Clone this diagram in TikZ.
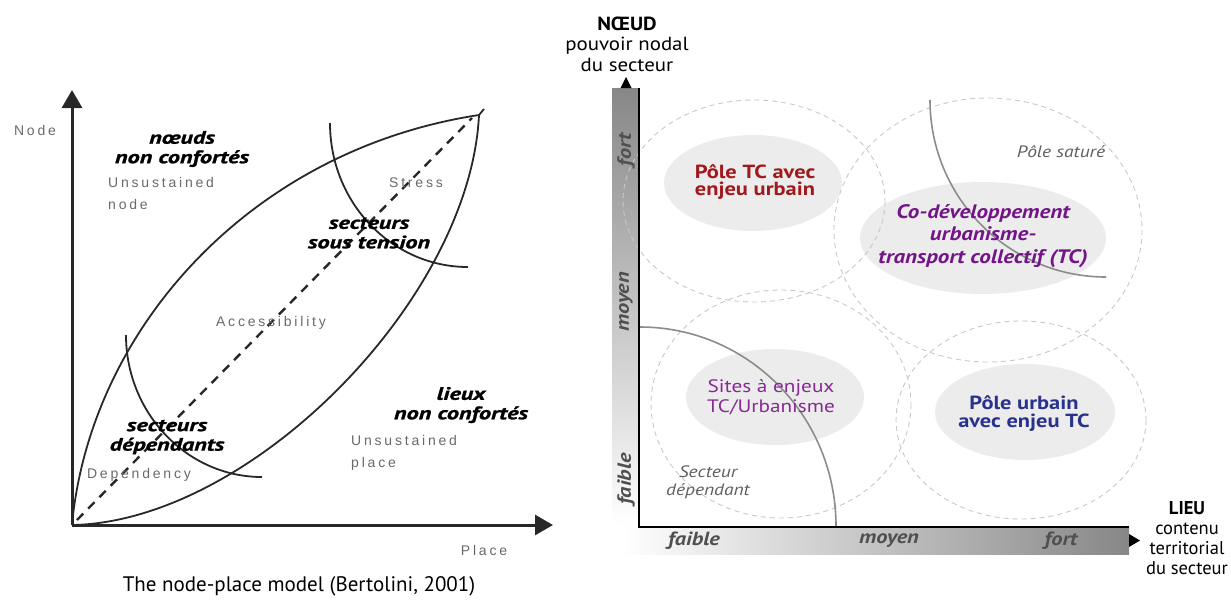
\documentclass[tikz,border=0pt]{standalone}
\usepackage{fontspec}
\setmainfont{PT Sans}
\newfontfamily\helv[LetterSpace=20]{Liberation Sans}
\newfontfamily\frfont[FakeStretch=1.35,FakeBold=1.2]{PT Sans}
\newfontfamily\rfont[FakeStretch=1.18]{PT Sans}
\newfontfamily\nfont[FakeStretch=1.1]{PT Sans}
\usetikzlibrary{arrows.meta,shapes.geometric}
\definecolor{inkL}{RGB}{40,40,40}
\definecolor{helvgray}{RGB}{105,105,105}
\definecolor{barDark}{RGB}{135,135,135}
\definecolor{blobfill}{RGB}{236,236,236}
\definecolor{dashgray}{RGB}{200,200,200}
\definecolor{arcgray}{RGB}{140,140,140}
\definecolor{labgray}{RGB}{80,80,80}
\definecolor{itgray}{RGB}{95,95,95}
\definecolor{tcred}{RGB}{160,25,28}
\definecolor{copurple}{RGB}{115,20,135}
\definecolor{sitepurple}{RGB}{135,40,150}
\definecolor{urbblue}{RGB}{40,50,140}
\begin{document}
\begin{tikzpicture}[x=1pt,y=-1pt,
  axisL/.style={line width=3pt,draw=inkL,-{Triangle[length=18pt,width=20pt]}},
  leaf/.style={line width=1.8pt,draw=inkL},
  diag/.style={line width=2.4pt,draw=inkL,dash pattern=on 9pt off 7pt},
  engl/.style={font=\helv\fontsize{14}{22}\selectfont,text=helvgray,inner sep=0pt,align=left},
  frb/.style={font=\frfont\bfseries\itshape\fontsize{18}{19.5}\selectfont,text=black,inner sep=0pt,align=center},
  blob/.style={ellipse,fill=blobfill,inner sep=0pt},
  dcirc/.style={draw=dashgray,line width=0.9pt,dash pattern=on 5pt off 4pt},
  arcR/.style={draw=arcgray,line width=1.6pt},
  barlab/.style={font=\rfont\bfseries\itshape\fontsize{19}{20}\selectfont,text=labgray,inner sep=0pt},
  axtitle/.style={font=\nfont\fontsize{19}{20.5}\selectfont,align=center,inner sep=0pt},
  itlab/.style={font=\rfont\itshape\fontsize{16.5}{18}\selectfont,text=itgray,align=center,inner sep=0pt}
]
\useasboundingbox (0,0) rectangle (1231,600);

% ================= LEFT PANEL =================
\coordinate (O) at (72,525);
\coordinate (Ytip) at (72,90);
\coordinate (Xtip) at (553,525);
\coordinate (T) at (479,115);
\coordinate (Tx) at (484,109);
\coordinate (D0) at (77,520);
\coordinate (D1) at (472,118);
\coordinate (S0) at (330,123);
\coordinate (S1) at (468,267);
\coordinate (P0) at (126,335);
\coordinate (P1) at (262,477);

\draw[leaf] (O) .. controls (90,330) and (250,150) .. (T) -- (Tx);
\draw[leaf] (O) .. controls (250,522) and (470,300) .. (T);
\draw[diag] (D0) -- (D1);
\draw[leaf] (S0) .. controls (330,203) and (392,267) .. (S1);
\draw[leaf] (P0) .. controls (126,413) and (187,477) .. (P1);
\draw[axisL] (O) -- (Ytip);
\draw[axisL] (O) -- (Xtip);

\node[engl] (nodelab) at (35,130) {Node};
\node[engl] (placelab) at (484,550) {Place};
\node[font=\fontsize{21}{22}\selectfont,inner sep=0pt] (caption) at (299,586) {The node-place model (Bertolini, 2001)};

\node[frb] (nnc) at (182,149) {nœuds\\non confortés};
\node[engl,anchor=west] (unode) at (108,193) {Unsustained\\node};
\node[engl] (stress) at (416,183) {Stress};
\node[frb] (sst) at (369,233) {secteurs\\sous tension};
\node[engl] (acc) at (271,323) {Accessibility};
\node[frb] (sdep) at (167,437) {secteurs\\dépendants};
\node[engl] (dep) at (139,475) {Dependency};
\node[frb] (lnc) at (461,405) {lieux\\non confortés};
\node[engl,anchor=west] (uplace) at (351,453) {Unsustained\\place};

% ================= RIGHT PANEL =================
\shade[top color=barDark,bottom color=white] (612,88) rectangle (639,525);
\shade[left color=white,right color=barDark] (622,527) rectangle (1129,554);

\node[blob,minimum width=178pt,minimum height=96pt] (e1) at (753,183) {};
\node[blob,minimum width=246pt,minimum height=112pt] (e2) at (983,238) {};
\node[blob,minimum width=178pt,minimum height=96pt] (e3) at (775,397) {};
\node[blob,minimum width=180pt,minimum height=96pt] (e4) at (1025,412) {};

\draw[dcirc] (754,201) ellipse [x radius=131, y radius=101];
\draw[dcirc] (988,230) ellipse [x radius=154, y radius=132];
\draw[dcirc] (781,404) ellipse [x radius=130, y radius=114];
\draw[dcirc] (1021,420) ellipse [x radius=125, y radius=99];

\coordinate (A0) at (930,100);
\coordinate (A1) at (1106,277);
\coordinate (B0) at (640,327);
\coordinate (B1) at (836,526);
\draw[arcR] (A0) .. controls (930,198) and (1009,277) .. (A1);
\draw[arcR] (B0) .. controls (748,327) and (836,416) .. (B1);

\coordinate (RO) at (639,527);
\coordinate (RY) at (639,88);
\coordinate (RX) at (1129,527);
\draw[line width=1.6pt,black] (RY) -- (RO) -- (RX);
\fill[black] (620.5,88) -- (631.5,88) -- (626,77) -- cycle;
\fill[black] (1129,534) -- (1129,547) -- (1140,540.5) -- cycle;

\node[barlab,rotate=90] (yf) at (626,150) {fort};
\node[barlab,rotate=90] (ym) at (626,302) {moyen};
\node[barlab,rotate=90] (yl) at (626,479) {faible};
\node[barlab] (xl) at (694,541) {faible};
\node[barlab] (xm) at (889,541) {moyen};
\node[barlab] (xf) at (1061,541) {fort};

\node[axtitle] (noeud) at (627,44) {\textbf{NŒUD}\\pouvoir nodal\\du secteur};
\node[axtitle,font=\fontsize{18.5}{20}\selectfont] (lieu) at (1187,538) {\textbf{LIEU}\\contenu\\territorial\\du secteur};

\node[font=\rfont\bfseries\fontsize{19}{17}\selectfont,text=tcred,align=center,inner sep=0pt] at (755,182) {Pôle TC avec\\enjeu urbain};
\node[font=\rfont\bfseries\itshape\fontsize{19.5}{22.5}\selectfont,text=copurple,align=center,inner sep=0pt] at (983,236) {Co-développement\\urbanisme-\\transport collectif (TC)};
\node[font=\rfont\fontsize{18}{20}\selectfont,text=sitepurple,align=center,inner sep=0pt] at (771,397) {Sites à enjeux\\TC/Urbanisme};
\node[font=\rfont\bfseries\fontsize{19}{18}\selectfont,text=urbblue,align=center,inner sep=0pt] at (1024,414) {Pôle urbain\\avec enjeu TC};

\node[itlab] (psat) at (1061,152) {Pôle saturé};
\node[itlab] (sdp) at (708,482) {Secteur\\dépendant};
\end{tikzpicture}
\end{document}
